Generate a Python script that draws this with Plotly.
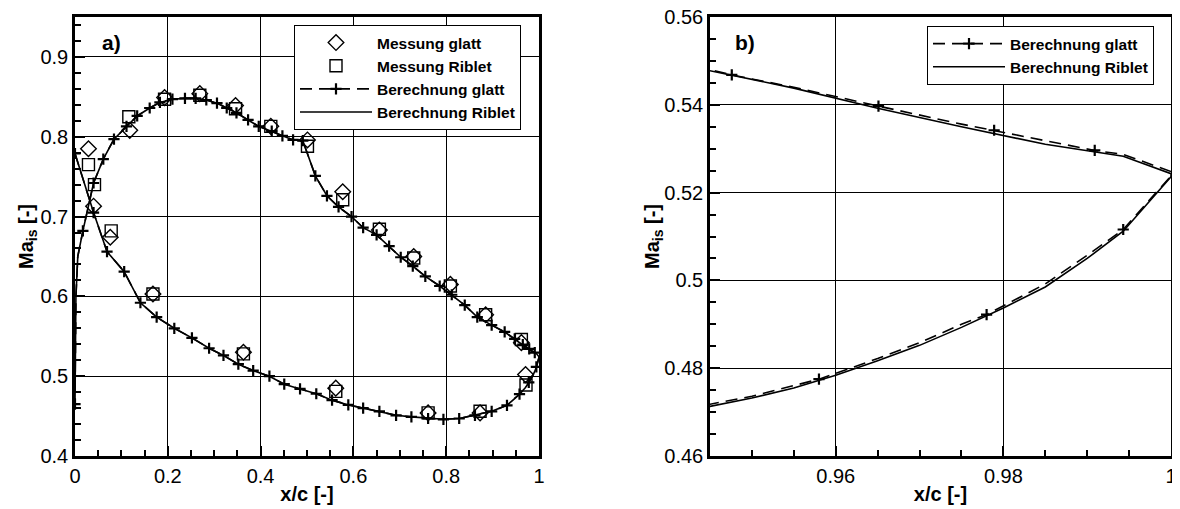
import plotly.graph_objects as go

# ---------------- data ----------------
# Measurements (panel a)
mess_glatt_x = [0.029, 0.040, 0.076, 0.118, 0.168, 0.193, 0.269, 0.346, 0.363, 0.422, 0.501,
                0.562, 0.577, 0.656, 0.730, 0.761, 0.809, 0.873, 0.885, 0.962, 0.971]
mess_glatt_y = [0.785, 0.713, 0.674, 0.808, 0.603, 0.849, 0.854, 0.839, 0.530, 0.813, 0.796,
                0.485, 0.731, 0.683, 0.650, 0.454, 0.615, 0.454, 0.577, 0.542, 0.502]
mess_riblet_x = [0.029, 0.042, 0.078, 0.116, 0.168, 0.193, 0.269, 0.346, 0.363, 0.422, 0.501,
                 0.562, 0.577, 0.656, 0.730, 0.761, 0.809, 0.873, 0.885, 0.962, 0.972]
mess_riblet_y = [0.765, 0.740, 0.682, 0.825, 0.603, 0.847, 0.852, 0.835, 0.528, 0.813, 0.788,
                 0.481, 0.721, 0.684, 0.648, 0.454, 0.613, 0.456, 0.577, 0.546, 0.489]

# Calculation smooth surface ("glatt"): lower branch (LE -> TE) and upper branch (LE -> TE)
# *_mark: 1 where the curve carries a "+" symbol
glatt_low_x = [0.0, 0.040, 0.069, 0.106, 0.141, 0.176, 0.214, 0.252, 0.289, 0.320, 0.352, 0.384,
               0.419, 0.451, 0.485, 0.520, 0.554, 0.589, 0.621, 0.656, 0.692, 0.725, 0.761, 0.794,
               0.828, 0.862, 0.898, 0.931, 0.945, 0.950, 0.955, 0.958, 0.965, 0.970, 0.975, 0.978,
               0.985, 0.990, 0.9943, 1.0]
glatt_low_y = [0.779, 0.705, 0.656, 0.631, 0.592, 0.574, 0.560, 0.548, 0.535, 0.526, 0.515, 0.507,
               0.500, 0.490, 0.484, 0.478, 0.470, 0.464, 0.460, 0.456, 0.451, 0.449, 0.447, 0.446,
               0.447, 0.451, 0.456, 0.4635, 0.4718, 0.4736, 0.4760, 0.4775, 0.4822, 0.4858, 0.4900,
               0.4922, 0.4992, 0.5057, 0.5116, 0.5238]
glatt_low_mark = [1, 1, 1, 1, 1, 1, 1, 1, 1, 1, 1, 1,
                  1, 1, 1, 1, 1, 1, 1, 1, 1, 1, 1, 1,
                  1, 1, 1, 1, 0, 0, 0, 1, 0, 0, 0, 1,
                  0, 0, 1, 0]
glatt_up_x = [0.0, 0.002, 0.006, 0.017, 0.040, 0.061, 0.084, 0.111, 0.134, 0.161, 0.183, 0.210,
              0.237, 0.260, 0.283, 0.306, 0.327, 0.348, 0.373, 0.396, 0.424, 0.447, 0.470, 0.491,
              0.518, 0.543, 0.568, 0.596, 0.621, 0.650, 0.677, 0.702, 0.728, 0.755, 0.786, 0.812,
              0.840, 0.867, 0.898, 0.926, 0.9451, 0.9476, 0.955, 0.9651, 0.975, 0.9789, 0.985,
              0.9909, 0.9943, 1.0]
glatt_up_y = [0.465, 0.600, 0.650, 0.682, 0.742, 0.772, 0.797, 0.813, 0.826, 0.836, 0.843, 0.847,
              0.848, 0.848, 0.846, 0.842, 0.836, 0.830, 0.821, 0.813, 0.807, 0.801, 0.796, 0.795,
              0.751, 0.726, 0.712, 0.700, 0.686, 0.677, 0.663, 0.649, 0.638, 0.625, 0.613, 0.602,
              0.589, 0.574, 0.564, 0.5555, 0.5480, 0.5468, 0.5440, 0.5397, 0.5356, 0.5342, 0.5318,
              0.5296, 0.5287, 0.5248]
glatt_up_mark = [1, 0, 0, 1, 1, 1, 1, 1, 1, 1, 1, 1,
                 1, 1, 1, 1, 1, 1, 1, 1, 1, 1, 1, 1,
                 1, 1, 1, 1, 1, 1, 1, 1, 1, 1, 1, 1,
                 1, 1, 1, 1, 0, 1, 0, 1, 0, 1, 0,
                 1, 0, 0]

# Calculation riblet surface
riblet_low_x = [0.0, 0.040, 0.069, 0.106, 0.141, 0.176, 0.214, 0.252, 0.289, 0.320, 0.352, 0.384,
                0.419, 0.451, 0.485, 0.520, 0.554, 0.589, 0.621, 0.656, 0.692, 0.725, 0.761, 0.794,
                0.828, 0.862, 0.898, 0.931, 0.945, 0.950, 0.955, 0.960, 0.965, 0.970, 0.975, 0.980,
                0.985, 0.990, 0.9943, 1.0]
riblet_low_y = [0.779, 0.705, 0.656, 0.631, 0.592, 0.574, 0.560, 0.548, 0.535, 0.526, 0.515, 0.507,
                0.500, 0.490, 0.484, 0.478, 0.470, 0.464, 0.460, 0.456, 0.451, 0.449, 0.447, 0.446,
                0.447, 0.451, 0.456, 0.4635, 0.4713, 0.4732, 0.4755, 0.4784, 0.4817, 0.4852, 0.4893,
                0.4937, 0.4985, 0.5050, 0.5112, 0.5236]
riblet_up_x = [0.0, 0.002, 0.006, 0.017, 0.040, 0.061, 0.084, 0.111, 0.134, 0.161, 0.183, 0.210,
               0.237, 0.260, 0.283, 0.306, 0.327, 0.348, 0.373, 0.396, 0.424, 0.447, 0.470, 0.491,
               0.518, 0.543, 0.568, 0.596, 0.621, 0.650, 0.677, 0.702, 0.728, 0.755, 0.786, 0.812,
               0.840, 0.867, 0.898, 0.926, 0.9451, 0.955, 0.965, 0.975, 0.985, 0.9943, 1.0]
riblet_up_y = [0.465, 0.600, 0.650, 0.682, 0.742, 0.772, 0.797, 0.813, 0.826, 0.836, 0.843, 0.847,
               0.848, 0.848, 0.846, 0.842, 0.836, 0.830, 0.821, 0.813, 0.807, 0.801, 0.796, 0.795,
               0.751, 0.726, 0.712, 0.700, 0.686, 0.677, 0.663, 0.649, 0.638, 0.625, 0.613, 0.602,
               0.589, 0.574, 0.564, 0.5553, 0.5478, 0.5438, 0.5392, 0.5350, 0.5310, 0.5283, 0.5243]

legend_names = ["Messung glatt", "Messung Riblet", "Berechnung glatt", "Berechnung Riblet"]

# ---------------- figure ----------------
PAGE_W, PAGE_H = 1180, 509
OFF = 8  # default body margin of the html page
W, H = PAGE_W - OFF, PAGE_H - OFF
FONT = "Liberation Sans, Arial, Helvetica, sans-serif"


def px(p):   # page x pixel -> paper fraction
    return (p - OFF) / W


def py(p):   # page y pixel (from top) -> paper fraction
    return 1 - (p - OFF) / H


def loop(lx, ly, ux, uy):
    # closed curve: lower branch LE->TE, then upper branch TE->LE
    return list(lx) + list(ux[::-1]), list(ly) + list(uy[::-1])


def pick(xs, ys, flags):
    return ([x for x, f in zip(xs, flags) if f], [y for y, f in zip(ys, flags) if f])


gx, gy = loop(glatt_low_x, glatt_low_y, glatt_up_x, glatt_up_y)
rx, ry = loop(riblet_low_x, riblet_low_y, riblet_up_x, riblet_up_y)
mlx, mly = pick(glatt_low_x, glatt_low_y, glatt_low_mark)
mux, muy = pick(glatt_up_x, glatt_up_y, glatt_up_mark)
gmx, gmy = mlx + [None] + mux, mly + [None] + muy

solid = dict(color="black", width=1.6)
dashed = dict(color="black", width=1.6, dash="12px,7px")
plus = dict(symbol="cross-thin", size=8, color="black", line=dict(color="black", width=2.2))

fig = go.Figure()

for xa, ya, lg, show_mess in [("x", "y", "legend", True), ("x2", "y2", "legend2", False)]:
    fig.add_trace(go.Scatter(
        x=rx, y=ry, mode="lines", name="<b>" + legend_names[3] + "</b>",
        line=solid, xaxis=xa, yaxis=ya, legend=lg, legendrank=4))
    fig.add_trace(go.Scatter(
        x=gx, y=gy, mode="lines", line=dashed, showlegend=False,
        legendgroup="glatt" + xa, xaxis=xa, yaxis=ya))
    fig.add_trace(go.Scatter(
        x=gmx, y=gmy, mode="markers", marker=plus, showlegend=False,
        legendgroup="glatt" + xa, xaxis=xa, yaxis=ya))
    # legend entry for the dashed line with "+" symbols
    fig.add_trace(go.Scatter(
        x=[None], y=[None], mode="lines+markers", name="<b>" + legend_names[2] + "</b>",
        line=dashed, marker=plus, legendgroup="glatt" + xa,
        xaxis=xa, yaxis=ya, legend=lg, legendrank=3))
    if show_mess:
        fig.add_trace(go.Scatter(
            x=mess_glatt_x, y=mess_glatt_y, mode="markers", name="<b>" + legend_names[0] + "</b>",
            marker=dict(symbol="diamond-open", size=12, color="black", line=dict(width=1.4)),
            xaxis=xa, yaxis=ya, legend=lg, legendrank=1))
        fig.add_trace(go.Scatter(
            x=mess_riblet_x, y=mess_riblet_y, mode="markers", name="<b>" + legend_names[1] + "</b>",
            marker=dict(symbol="square-open", size=12, color="black", line=dict(width=1.4)),
            xaxis=xa, yaxis=ya, legend=lg, legendrank=2))

ydom = [py(456), py(17)]
ax_common = dict(
    showline=True, linecolor="black", linewidth=2.5, mirror=True,
    showgrid=True, gridcolor="black", gridwidth=1, zeroline=False,
    ticks="inside", ticklen=10, tickwidth=1.5, tickcolor="black",
    tickfont=dict(family=FONT, size=20, color="black"),
    title_font=dict(family=FONT, size=20, color="black", weight="bold"),
    ticklabeloverflow="allow", automargin=False,
)

legend_common = dict(xanchor="left", yanchor="top",
                     bgcolor="white", bordercolor="black", borderwidth=1,
                     font=dict(family=FONT, size=15.5, color="black"), itemwidth=72,
                     traceorder="normal", tracegroupgap=0)

fig.update_layout(
    template="none",
    width=W, height=H,
    margin=dict(l=0, r=0, t=0, b=0, pad=0),
    paper_bgcolor="white", plot_bgcolor="white",
    font=dict(family=FONT, color="black"),
    xaxis=dict(ax_common, domain=[px(75), px(539)], range=[0, 1], dtick=0.2, tick0=0,
               minor=dict(ticks="inside", ticklen=6, dtick=0.05, tickcolor="black", showgrid=False),
               title=dict(text="x/c [-]", standoff=2), anchor="y"),
    yaxis=dict(ax_common, domain=ydom, range=[0.4, 0.95], dtick=0.1, tick0=0,
               minor=dict(ticks="inside", ticklen=6, dtick=0.02, tickcolor="black", showgrid=False),
               title=dict(text="Ma<sub>is</sub> [-]", standoff=0), anchor="x"),
    xaxis2=dict(ax_common, domain=[px(710), px(1171)], range=[0.945, 1.0], dtick=0.02, tick0=0,
                minor=dict(ticks="inside", ticklen=6, dtick=0.005, tickcolor="black", showgrid=False),
                title=dict(text="x/c [-]", standoff=2), anchor="y2"),
    yaxis2=dict(ax_common, domain=ydom, range=[0.46, 0.56], dtick=0.02, tick0=0,
                minor=dict(ticks="inside", ticklen=6, dtick=0.005, tickcolor="black", showgrid=False),
                title=dict(text="Ma<sub>is</sub> [-]", standoff=0), anchor="x2"),
    legend=dict(legend_common, x=px(294), y=py(25)),
    legend2=dict(legend_common, x=px(927), y=py(26)),
    annotations=[
        dict(text="<b>a)</b>", x=px(100), y=py(42), xref="paper", yref="paper",
             xanchor="left", yanchor="middle", showarrow=False,
             font=dict(family=FONT, size=21, color="black")),
        dict(text="<b>b)</b>", x=px(733), y=py(43), xref="paper", yref="paper",
             xanchor="left", yanchor="middle", showarrow=False,
             font=dict(family=FONT, size=21, color="black")),
    ],
)

fig.write_html("out.html")
